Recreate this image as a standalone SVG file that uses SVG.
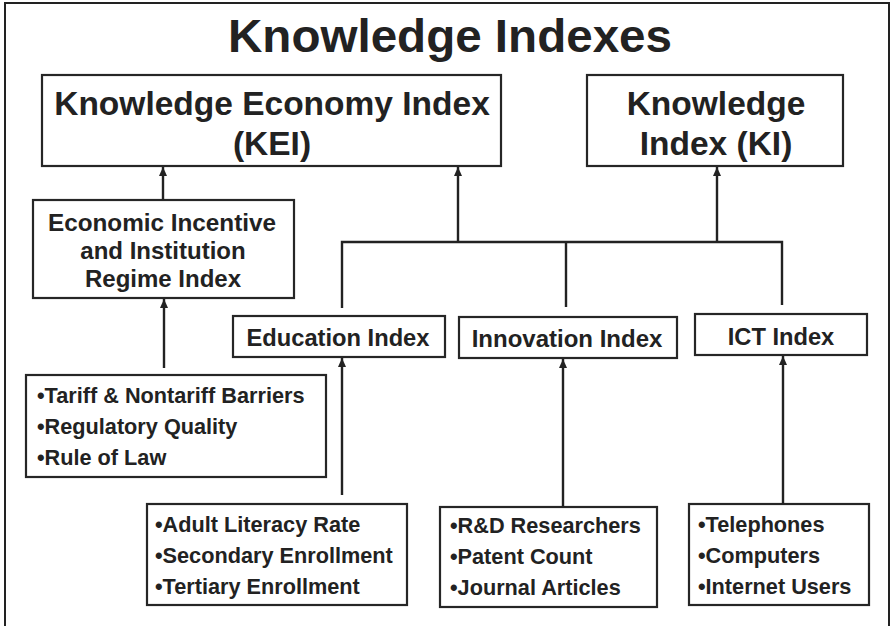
<svg xmlns="http://www.w3.org/2000/svg" width="891" height="626" viewBox="0 0 891 626">
<style>
.box{fill:#fff;stroke:#262626;stroke-width:2.2}
.t{font-family:"Liberation Sans",Arial,sans-serif;font-weight:bold;fill:#222;text-anchor:middle}
.b{font-family:"Liberation Sans",Arial,sans-serif;font-weight:bold;fill:#222;font-size:21.7px}
.c{fill:none;stroke:#222;stroke-width:2.4}
</style>
<defs>
<marker id="ah" markerUnits="userSpaceOnUse" markerWidth="10" markerHeight="8" refX="9" refY="4" orient="auto">
<path d="M0,0 L9,4 L0,8 z" fill="#222"/>
</marker>
</defs>
<rect x="0" y="0" width="891" height="626" fill="#fff"/>
<rect x="5" y="3" width="884" height="630" fill="none" stroke="#222" stroke-width="2"/>
<text class="t" x="450" y="52" font-size="46" textLength="444" lengthAdjust="spacingAndGlyphs">Knowledge Indexes</text>

<g id="kei">
<rect class="box" x="42" y="75" width="459" height="91"/>
<text class="t" x="272" y="115" font-size="33.5">Knowledge Economy Index</text>
<text class="t" x="272" y="155" font-size="33.5">(KEI)</text>
</g>
<g id="ki">
<rect class="box" x="587" y="75" width="256" height="91"/>
<text class="t" x="716" y="115" font-size="33.5">Knowledge</text>
<text class="t" x="716" y="155" font-size="33.5">Index (KI)</text>
</g>
<g id="eiiri">
<rect class="box" x="33" y="200" width="261" height="98"/>
<text class="t" x="162" y="231" font-size="24" textLength="228" lengthAdjust="spacingAndGlyphs">Economic Incentive</text>
<text class="t" x="163" y="259" font-size="24">and Institution</text>
<text class="t" x="163" y="287" font-size="24">Regime Index</text>
</g>
<g id="education">
<rect class="box" x="233" y="316" width="212" height="41"/>
<text class="t" x="338" y="346" font-size="23.7">Education Index</text>
</g>
<g id="innovation">
<rect class="box" x="459" y="317" width="218" height="41"/>
<text class="t" x="567" y="347" font-size="24">Innovation Index</text>
</g>
<g id="ict">
<rect class="box" x="695" y="314" width="172" height="41"/>
<text class="t" x="781" y="345" font-size="23.7">ICT Index</text>
</g>
<g id="tariff">
<rect class="box" x="26" y="375" width="300" height="102"/>
<text class="b" x="37" y="403">•Tariff &amp; Nontariff Barriers</text>
<text class="b" x="37" y="434">•Regulatory Quality</text>
<text class="b" x="37" y="465">•Rule of Law</text>
</g>
<g id="edu-items">
<rect class="box" x="147" y="504" width="260" height="101"/>
<text class="b" x="155" y="532">•Adult Literacy Rate</text>
<text class="b" x="155" y="563">•Secondary Enrollment</text>
<text class="b" x="155" y="594">•Tertiary Enrollment</text>
</g>
<g id="inn-items">
<rect class="box" x="440" y="507" width="217" height="100"/>
<text class="b" x="450" y="533">•R&amp;D Researchers</text>
<text class="b" x="450" y="564">•Patent Count</text>
<text class="b" x="450" y="595">•Journal Articles</text>
</g>
<g id="ict-items">
<rect class="box" x="689" y="504" width="180" height="101"/>
<text class="b" x="698" y="532">•Telephones</text>
<text class="b" x="698" y="563">•Computers</text>
<text class="b" x="698" y="594">•Internet Users</text>
</g>

<g id="connectors">
<line class="c" x1="163" y1="200" x2="163" y2="167" marker-end="url(#ah)"/>
<line class="c" x1="164" y1="368" x2="164" y2="299" marker-end="url(#ah)"/>
<line class="c" x1="458" y1="243" x2="458" y2="167" marker-end="url(#ah)"/>
<line class="c" x1="717" y1="243" x2="717" y2="167" marker-end="url(#ah)"/>
<polyline class="c" points="342,308 342,242 782,242 782,305"/>
<line class="c" x1="566" y1="242" x2="566" y2="307"/>
<line class="c" x1="342" y1="495" x2="342" y2="358" marker-end="url(#ah)"/>
<line class="c" x1="563" y1="507" x2="563" y2="359" marker-end="url(#ah)"/>
<line class="c" x1="783" y1="504" x2="783" y2="356" marker-end="url(#ah)"/>
</g>
</svg>
